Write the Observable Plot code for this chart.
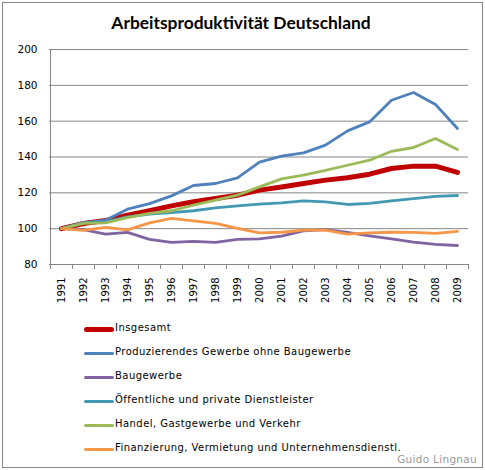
<!DOCTYPE html>
<html>
<head>
<meta charset="utf-8">
<script src="https://cdn.jsdelivr.net/npm/d3@7"></script>
<script src="https://cdn.jsdelivr.net/npm/@observablehq/plot@0.6"></script>
<style>
  html, body { margin: 0; padding: 0; background: #fff; }
  #chart { position: relative; width: 485px; height: 470px; overflow: hidden; background: #fff; }
  #border { position: absolute; left: 2px; top: 2px; width: 479px; height: 464px; border: 1px solid #868686; }
  #title { position: absolute; left: 0; width: 482px; top: 12px; text-align: center;
           font-family: Lato, "Open Sans", sans-serif; font-weight: bold; font-size: 17.4px; color: #000; }
  #plot { position: absolute; left: 0; top: 0; }
  #legend { position: absolute; left: 84px; top: 317px; font-family: "DejaVu Sans", sans-serif; font-size: 10px; color: #000; }
  .row { position: relative; height: 24px; }
  .sw { position: absolute; left: 0; width: 30px; border-radius: 3px; }
  .lab { position: absolute; left: 31px; top: 5px; white-space: nowrap; letter-spacing: 0.45px; }
  #credit { position: absolute; right: 8px; top: 453px; font-family: "DejaVu Sans", sans-serif; font-size: 10.5px; letter-spacing: 0.3px; color: #9a9a9a; }
</style>
</head>
<body>
<div id="chart">
  <div id="border"></div>
  <div id="title">Arbeitsproduktivität Deutschland</div>
  <div id="plot"></div>
  <div id="legend"></div>
  <div id="credit">Guido Lingnau</div>
</div>
<script>
const years = ["1991","1992","1993","1994","1995","1996","1997","1998","1999","2000",
               "2001","2002","2003","2004","2005","2006","2007","2008","2009"];
const yTicks = [80, 100, 120, 140, 160, 180, 200];

const seriesNames = [
  "Insgesamt",
  "Produzierendes Gewerbe ohne Baugewerbe",
  "Baugewerbe",
  "Öffentliche und private Dienstleister",
  "Handel, Gastgewerbe und Verkehr",
  "Finanzierung, Vermietung und Unternehmensdienstl."
];
const insgesamt     = [100, 102.9, 104.5, 107.5, 110.0, 112.7, 115.0, 116.8, 118.7, 121.5, 123.3, 125.2, 127.1, 128.4, 130.4, 133.6, 134.9, 134.9, 131.4];
const produzierend  = [100, 103.2, 104.7, 110.9, 114.0, 118.3, 124.1, 125.2, 128.4, 137.1, 140.5, 142.3, 146.6, 154.6, 159.6, 171.7, 176.0, 169.3, 155.9];
const baugewerbe    = [100, 99.5, 96.9, 97.9, 94.0, 92.3, 92.9, 92.3, 94.0, 94.3, 95.8, 98.8, 99.5, 97.9, 96.0, 94.3, 92.5, 91.2, 90.6];
const oeffentlich   = [100, 103.4, 103.8, 106.6, 108.1, 109.0, 110.0, 111.6, 112.7, 113.7, 114.4, 115.5, 115.0, 113.5, 114.1, 115.5, 116.8, 118.0, 118.5];
const handel        = [100, 102.9, 103.2, 106.2, 108.5, 110.0, 113.1, 115.9, 118.7, 123.3, 127.8, 129.9, 132.6, 135.4, 138.2, 143.2, 145.3, 150.3, 144.2];
const finanzierung  = [100, 99.0, 100.7, 99.3, 103.2, 105.7, 104.4, 102.9, 100.1, 97.7, 98.0, 99.2, 99.2, 96.9, 97.7, 98.0, 97.9, 97.4, 98.5];

const seriesValues = [insgesamt, produzierend, baugewerbe, oeffentlich, handel, finanzierung];
const seriesColors = ["#C00000", "#4F81BD", "#8064A2", "#4399B1", "#9BBB59", "#F79646"];
const seriesWidths = [5, 2.8, 2.8, 2.8, 2.8, 2.8];

const grey = "#868686";
const half = 419 / 19 / 2;

const lineMarks = seriesNames.map((name, k) =>
  Plot.line(years.map((y, i) => ({year: y, value: seriesValues[k][i]})), {
    x: "year", y: "value", stroke: seriesColors[k], strokeWidth: seriesWidths[k],
    strokeLinejoin: "round", strokeLinecap: "round"
  })
);

const chart = Plot.plot({
  width: 485, height: 310,
  marginLeft: 49, marginRight: 17, marginTop: 49, marginBottom: 46,
  style: {fontFamily: "DejaVu Sans, sans-serif", fontSize: "10px", color: "#000", background: "transparent", overflow: "visible"},
  x: {type: "point", domain: years, padding: 0.5},
  y: {domain: [80, 200]},
  marks: [
    Plot.ruleY(yTicks, {stroke: grey, strokeWidth: 1}),
    Plot.ruleX([years[0]], {y1: 80, y2: 200, dx: -half, stroke: grey}),
    Plot.ruleY(yTicks, {x1: years[0], x2: years[0], dx: -half, insetLeft: -5, stroke: grey}),
    Plot.ruleX(years, {y1: 80, y2: 80, dx: -half, insetBottom: -5, stroke: grey}),
    Plot.ruleX([years[years.length - 1]], {y1: 80, y2: 80, dx: half, insetBottom: -5, stroke: grey}),
    Plot.axisY({ticks: yTicks, tickSize: 0, tickPadding: 12, label: null, fontSize: 10.5}),
    Plot.axisX({tickSize: 0, tickPadding: 13, tickRotate: -90, label: null, fontSize: 10}),
    ...lineMarks
  ]
});
document.getElementById("plot").appendChild(chart);

const legend = document.getElementById("legend");
seriesNames.forEach((name, k) => {
  const row = document.createElement("div");
  row.className = "row";
  const sw = document.createElement("div");
  sw.className = "sw";
  const h = k === 0 ? 5 : 3;
  sw.style.height = h + "px";
  sw.style.top = (12 - h / 2) + "px";
  sw.style.background = seriesColors[k];
  const lab = document.createElement("div");
  lab.className = "lab";
  lab.textContent = name;
  row.appendChild(sw);
  row.appendChild(lab);
  legend.appendChild(row);
});
</script>
</body>
</html>
